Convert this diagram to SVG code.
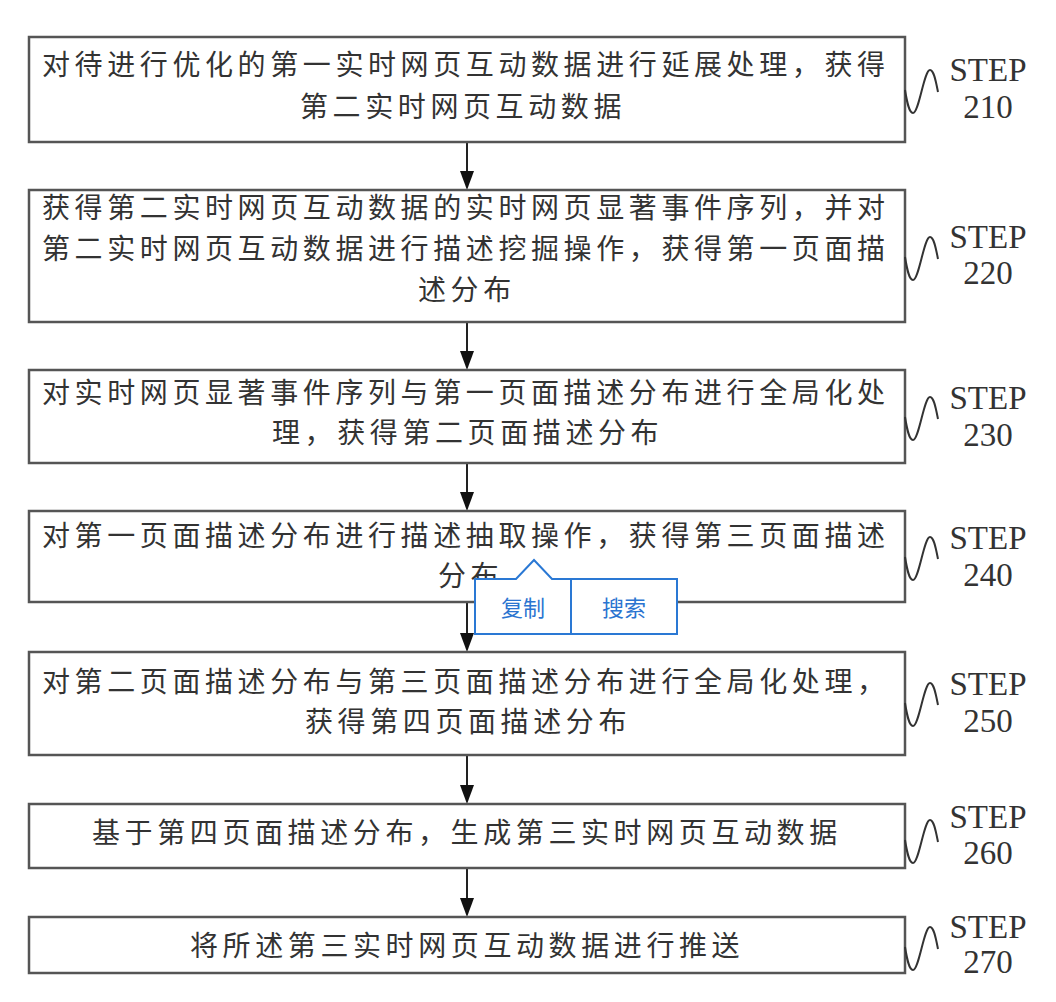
<svg xmlns="http://www.w3.org/2000/svg" width="1056" height="1002" viewBox="0 0 1056 1002">
<style>
.box{fill:#fff;stroke:#555;stroke-width:2.5}
.t{font-family:"Noto Sans CJK SC","Noto Sans",sans-serif;font-size:28px;letter-spacing:4.6px;fill:#333}
.s{font-family:"Liberation Serif","Times New Roman",serif;font-size:33px;fill:#333;text-anchor:middle}
.sq{fill:none;stroke:#333;stroke-width:2}
.ln{stroke:#222;stroke-width:2}
.ah{fill:#111}
.pop{fill:#fff;stroke:#2a78d4;stroke-width:2}
.pt{font-family:"Noto Sans CJK SC","Noto Sans",sans-serif;font-size:22px;fill:#2a74d0;text-anchor:middle}
</style>
<defs>
<path id="sqg" d="M905,0 C907,12 909,23 913,23 C919,23 924,-20 930,-20 C934,-20 936,-8 938,2"/>
</defs>
<rect width="1056" height="1002" fill="#fff"/>
<g id="connectors">
<line class="ln" x1="467" y1="142" x2="467" y2="172"/><path class="ah" d="M460,171 L474,171 L467,190 Z"/>
<line class="ln" x1="467" y1="322" x2="467" y2="352"/><path class="ah" d="M460,351 L474,351 L467,370 Z"/>
<line class="ln" x1="467" y1="463" x2="467" y2="493"/><path class="ah" d="M460,492 L474,492 L467,511 Z"/>
<line class="ln" x1="467" y1="602" x2="467" y2="634"/><path class="ah" d="M460,633 L474,633 L467,652 Z"/>
<line class="ln" x1="467" y1="755" x2="467" y2="786"/><path class="ah" d="M460,785 L474,785 L467,804 Z"/>
<line class="ln" x1="467" y1="868" x2="467" y2="899"/><path class="ah" d="M460,898 L474,898 L467,917 Z"/>
</g>
<g id="step210">
<rect class="box" x="29" y="37" width="876" height="105"/>
<text class="t" x="42" y="75">对待进行优化的第一实时网页互动数据进行延展处理，获得</text>
<text class="t" x="300" y="117">第二实时网页互动数据</text>
<use href="#sqg" class="sq" transform="translate(0,90)"/>
<text class="s" x="988" y="81">STEP</text><text class="s" x="988" y="118">210</text>
</g>
<g id="step220">
<rect class="box" x="29" y="190" width="876" height="132"/>
<text class="t" x="42" y="218">获得第二实时网页互动数据的实时网页显著事件序列，并对</text>
<text class="t" x="42" y="259">第二实时网页互动数据进行描述挖掘操作，获得第一页面描</text>
<text class="t" x="418" y="300">述分布</text>
<use href="#sqg" class="sq" transform="translate(0,257)"/>
<text class="s" x="988" y="248">STEP</text><text class="s" x="988" y="284">220</text>
</g>
<g id="step230">
<rect class="box" x="29" y="370" width="876" height="93"/>
<text class="t" x="42" y="403">对实时网页显著事件序列与第一页面描述分布进行全局化处</text>
<text class="t" x="272" y="443">理，获得第二页面描述分布</text>
<use href="#sqg" class="sq" transform="translate(0,417)"/>
<text class="s" x="988" y="409">STEP</text><text class="s" x="988" y="446">230</text>
</g>
<g id="step240">
<rect class="box" x="29" y="511" width="876" height="91"/>
<text class="t" x="42" y="546">对第一页面描述分布进行描述抽取操作，获得第三页面描述</text>
<text class="t" x="438" y="586">分布</text>
<use href="#sqg" class="sq" transform="translate(0,557)"/>
<text class="s" x="988" y="549">STEP</text><text class="s" x="988" y="586">240</text>
</g>
<g id="step250">
<rect class="box" x="29" y="652" width="876" height="103"/>
<text class="t" x="42" y="692">对第二页面描述分布与第三页面描述分布进行全局化处理，</text>
<text class="t" x="305" y="732">获得第四页面描述分布</text>
<use href="#sqg" class="sq" transform="translate(0,703)"/>
<text class="s" x="988" y="695">STEP</text><text class="s" x="988" y="732">250</text>
</g>
<g id="step260">
<rect class="box" x="29" y="804" width="876" height="64"/>
<text class="t" x="92" y="843">基于第四页面描述分布，生成第三实时网页互动数据</text>
<use href="#sqg" class="sq" transform="translate(0,840)"/>
<text class="s" x="988" y="828">STEP</text><text class="s" x="988" y="864">260</text>
</g>
<g id="step270">
<rect class="box" x="29" y="917" width="876" height="56"/>
<text class="t" x="190" y="956">将所述第三实时网页互动数据进行推送</text>
<use href="#sqg" class="sq" transform="translate(0,947)"/>
<text class="s" x="988" y="938">STEP</text><text class="s" x="988" y="973">270</text>
</g>
<g id="popup">
<path class="pop" d="M475,579 L516,579 L534,560 L552,579 L677,579 L677,634 L475,634 Z"/>
<line x1="571" y1="579" x2="571" y2="634" stroke="#2a78d4" stroke-width="2"/>
<text class="pt" x="523" y="616">复制</text>
<text class="pt" x="624" y="616">搜索</text>
</g>
</svg>
